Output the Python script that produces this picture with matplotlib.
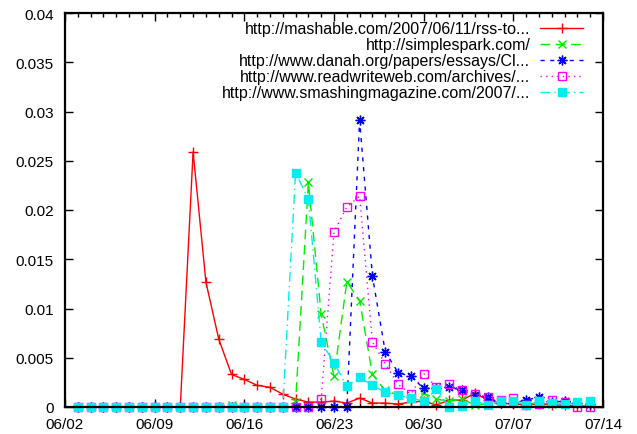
import matplotlib
matplotlib.use("Agg")
import matplotlib.pyplot as plt
import matplotlib.dates as mdates
import pandas as pd
import numpy as np

plt.rcParams['font.family'] = ['Liberation Sans', 'DejaVu Sans']

# daily observation dates 2007-06-03 .. 2007-07-13
dates = pd.date_range("2007-06-03", "2007-07-13", freq="D")

labels = [
    "http://mashable.com/2007/06/11/rss-to...",
    "http://simplespark.com/",
    "http://www.danah.org/papers/essays/Cl...",
    "http://www.readwriteweb.com/archives/...",
    "http://www.smashingmagazine.com/2007/...",
]

mashable = [0, 0, 0, 0, 0, 0, 0, 0, 0,
            0.0259, 0.0127, 0.0069, 0.0033, 0.0028, 0.0022, 0.0020, 0.0013, 0.0008,
            0.0005, 0.0005, 0.0006, 0.0004, 0.0009, 0.0004, 0.0004, 0.0003, 0.0005,
            0.0006, 0.0002, 0.0007, 0.0007, 0.0014, 0.0007, 0.0004, 0.0003, 0.0002,
            0.0003, 0.0002, 0.0002, 0.0001, 0.0001]

simplespark = [0, 0, 0, 0, 0, 0, 0, 0, 0, 0, 0, 0, 0.0002, 0, 0, 0, 0, 0.0005,
               0.0228, 0.0094, 0.0031, 0.0127, 0.0108, 0.0033, 0.0017, 0.0012, 0.0009,
               0.0014, 0.0008, 0.0006, 0.0008, 0.0002, 0.0003, 0.0004, 0.0004, 0.0003,
               0.0004, 0.0003, 0.0004, 0.0003, 0.0003]

danah = [0, 0, 0, 0, 0, 0, 0, 0, 0, 0, 0, 0, 0, 0, 0, 0, 0, 0, 0, 0, 0, 0,
         0.0291, 0.0133, 0.0056, 0.0035, 0.0031, 0.0019, 0.0019, 0.0020, 0.0017,
         0.0012, 0.0010, 0.0004, 0.0004, 0.0007, 0.0010, 0.0005, 0.0006, 0.0004,
         0.0003]

readwriteweb = [0, 0, 0, 0, 0, 0, 0, 0, 0, 0, 0, 0, 0, 0, 0, 0, 0, 0, 0,
                0.0008, 0.0178, 0.0203, 0.0214, 0.0066, 0.0044, 0.0023, 0.0013,
                0.0034, 0.0020, 0.0023, 0.0017, 0.0013, 0.0010, 0.0007, 0.0009,
                0.0002, 0.0003, 0.0007, 0.0005, 0.0, 0.0]

smashing = [0, 0, 0, 0, 0, 0, 0, 0, 0, 0, 0, 0, 0, 0, 0, 0, 0,
            0.0238, 0.0211, 0.0066, 0.0045, 0.0021, 0.0030, 0.0022, 0.0015, 0.0012,
            0.0009, 0.0006, 0.0018, 0.0, 0.0001, 0.0006, 0.0002, 0.0006, 0.0006,
            0.0002, 0.0006, 0.0004, 0.0003, 0.0005, 0.0006]

series = [mashable, simplespark, danah, readwriteweb, smashing]
colors = ["#ff0000", "#00ee00", "#0000ff", "#ff00ff", "#00eeee"]
linestyles = ["-", (0, (7, 4)), (0, (3, 4)), (0, (1, 3)), (0, (7, 3, 1, 3))]
markers = ["+", "x", (8, 2, 0), "s", "s"]
mfcs = [None, None, None, "none", "#00eeee"]
msizes = [7, 6, 7, 6, 6]

xtick_dates = pd.date_range("2007-06-02", "2007-07-14", freq="7D")
ytick_vals = [0, 0.005, 0.01, 0.015, 0.02, 0.025, 0.03, 0.035, 0.04]
ytick_labels = ["0", "0.005", "0.01", "0.015", "0.02", "0.025", "0.03", "0.035", "0.04"]

fig = plt.figure(figsize=(6.37, 4.35), dpi=100)
ax = fig.add_axes([65 / 637, 27 / 435, 538 / 637, 394 / 435])

for vals, lab, c, ls, m, mfc, ms in zip(series, labels, colors, linestyles, markers, mfcs, msizes):
    kw = dict(color=c, linestyle=ls, linewidth=1.0, marker=m, markersize=ms,
              markeredgewidth=1.0, markeredgecolor=c, label=lab, clip_on=False)
    if mfc is not None:
        kw["markerfacecolor"] = mfc
    ax.plot(dates, vals, **kw)

ax.set_xlim(xtick_dates[0], xtick_dates[-1])
ax.set_ylim(0, 0.04)
ax.set_xticks(xtick_dates)
ax.set_xticklabels([d.strftime("%m/%d") for d in xtick_dates])
ax.xaxis.set_minor_locator(mdates.DayLocator())
ax.set_yticks(ytick_vals)
ax.set_yticklabels(ytick_labels)

ax.tick_params(which="major", direction="in", length=6, width=1, top=True, right=True,
               labelsize=11, pad=8)
ax.tick_params(which="minor", direction="in", length=3, width=1, top=True, right=True)
ax.tick_params(axis="x", which="major", pad=7)
for sp in ax.spines.values():
    sp.set_linewidth(1.6)

leg = ax.legend(loc="upper right", bbox_to_anchor=(0.975, 0.995), frameon=False,
                markerfirst=False, numpoints=1, handlelength=2.7, handletextpad=0.6,
                labelspacing=0.06, fontsize=11.5, borderaxespad=0.0)
for t in leg.get_texts():
    t.set_ha("right")

fig.savefig("out.png", dpi=100)
